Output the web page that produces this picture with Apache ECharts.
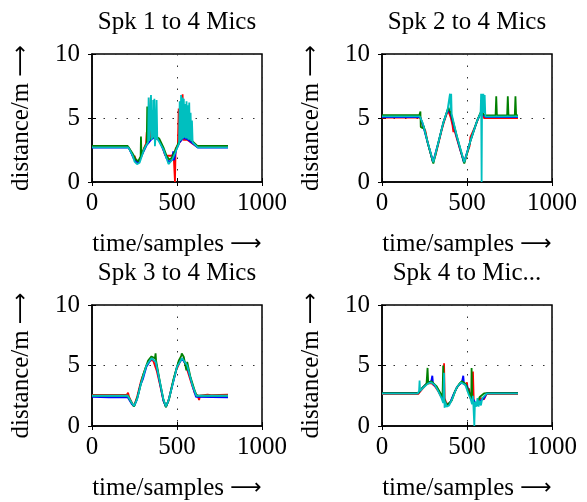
<!DOCTYPE html>
<html><head><meta charset="utf-8">
<script src="https://cdn.jsdelivr.net/npm/echarts@6/dist/echarts.min.js"></script>
<style>html,body{margin:0;padding:0;background:#fff}#c{width:587px;height:502px}</style>
</head><body><div id="c"></div>
<script>
const titles = ["Spk 1 to 4 Mics", "Spk 2 to 4 Mics", "Spk 3 to 4 Mics", "Spk 4 to Mic..."];
const xName = "time/samples {a|\u27F6}";
const yName = "distance/m {a|\u27F6}";
const seriesNames = ["Mic 1", "Mic 2", "Mic 3", "Mic 4"];
const colors = ["#ff0000", "#0000ff", "#008000", "#00bfbf"];

// Panel 1: Spk 1
const p1_red = [[0,2.72],[214,2.72],[235,2.2],[245,1.85],[250,2.05],[262,1.6],[275,1.55],[290,2.0],[305,2.6],[318,3.0],[322,3.9],[325,3.0],[340,3.3],[345,6.6],[348,3.4],[372,3.45],[395,3.3],[415,2.7],[430,2.1],[445,2.05],[468,2.05],[480,2.2],[488,0],[492,2.6],[505,2.9],[510,5.75],[514,3.1],[528,3.3],[533,6.85],[537,3.3],[545,3.35],[560,3.3],[590,3.0],[622,2.72],[800,2.72]];
const p1_blue = [[0,2.68],[216,2.68],[240,2.0],[258,1.6],[272,1.5],[290,2.0],[320,2.85],[350,3.35],[372,3.5],[395,3.25],[420,2.5],[440,1.8],[452,1.6],[470,1.7],[478,2.4],[482,1.7],[495,2.5],[515,3.1],[537,3.45],[560,3.35],[590,3.05],[624,2.68],[800,2.68]];
const p1_green = [[0,2.82],[210,2.82],[238,2.25],[258,1.75],[272,1.62],[286,2.0],[288,3.55],[291,2.1],[310,2.7],[322,3.0],[325,5.9],[328,3.2],[350,3.45],[372,3.6],[395,3.4],[420,2.7],[440,2.0],[455,1.75],[470,1.9],[490,2.5],[510,3.1],[537,3.6],[560,3.5],[590,3.2],[620,2.82],[800,2.82]];
const p1_cyan = [[0,2.7],[214,2.7],[238,2.1],[250,1.6],[258,1.75],[265,1.4],[272,1.45],[280,1.5],[290,1.9],[305,2.5],[320,2.9],[330,3.1],[333,6.6],[336,3.2],[342,3.3],[347,6.8],[350,3.3],[353,5.6],[356,3.4],[360,6.4],[363,3.5],[367,6.5],[370,2.8],[374,3.5],[380,6.4],[384,3.4],[395,3.25],[420,2.55],[440,1.8],[450,1.4],[458,1.55],[470,1.7],[490,2.3],[505,2.8],[512,3.0],[516,6.3],[520,3.2],[524,6.8],[528,3.3],[532,6.6],[536,3.4],[540,6.5],[544,3.5],[548,6.1],[552,3.4],[556,6.3],[560,3.4],[564,6.0],[568,3.3],[572,6.2],[576,3.3],[580,5.4],[584,3.2],[588,4.8],[592,3.1],[600,3.0],[622,2.7],[800,2.7]];

// Panel 2: Spk 2
const p2_red = [[0,5.03],[225,5.03],[232,4.8],[240,4.4],[255,4.0],[270,3.0],[285,2.3],[300,1.55],[315,2.1],[330,2.9],[350,4.0],[365,4.7],[380,5.3],[390,5.55],[405,5.0],[415,4.4],[420,3.9],[425,4.1],[440,3.4],[460,2.5],[484,1.55],[500,2.2],[515,2.8],[520,3.5],[530,3.6],[550,4.4],[570,5.1],[582,5.4],[600,5.0],[620,5.0],[800,5.0]];
const p2_blue = [[0,5.08],[224,5.08],[240,4.5],[270,3.0],[300,1.55],[330,3.0],[360,4.6],[388,5.7],[405,5.3],[440,3.5],[482,1.5],[520,3.2],[560,4.8],[582,5.4],[610,5.08],[800,5.08]];
const p2_green = [[0,5.23],[220,5.23],[226,5.5],[228,4.3],[240,4.2],[245,4.4],[270,3.0],[302,1.45],[330,3.0],[360,4.6],[390,5.8],[405,5.4],[440,3.6],[484,1.45],[520,3.2],[560,4.8],[582,5.5],[605,5.2],[668,5.2],[672,6.7],[676,5.2],[736,5.2],[740,6.7],[744,5.2],[781,5.2],[785,6.7],[789,5.2],[800,5.2]];
const p2_cyan = [[0,5.12],[222,5.12],[240,4.6],[270,3.05],[302,1.55],[330,3.0],[360,4.6],[385,5.6],[395,5.7],[400,6.9],[404,5.6],[407,6.9],[410,5.3],[440,3.6],[484,1.55],[520,3.2],[560,4.8],[580,5.4],[583,6.9],[586,0],[589,6.9],[592,5.5],[596,6.9],[600,5.4],[604,6.8],[608,5.1],[800,5.12]];

// Panel 3: Spk 3
const p3_red = [[0,2.58],[205,2.58],[212,2.75],[218,2.4],[235,1.9],[247,1.65],[265,2.4],[290,3.8],[320,5.0],[345,5.45],[360,5.4],[380,4.6],[400,3.4],[420,2.1],[435,1.6],[450,2.1],[470,3.3],[495,4.6],[520,5.4],[535,5.5],[550,5.1],[570,4.2],[590,3.3],[605,2.7],[620,2.55],[630,2.15],[635,2.5],[680,2.6],[700,2.55],[800,2.6]];
const p3_blue = [[0,2.4],[100,2.37],[210,2.37],[235,1.8],[247,1.62],[265,2.2],[285,3.4],[300,3.9],[320,4.9],[350,5.6],[375,5.3],[400,3.5],[420,2.1],[435,1.58],[450,2.1],[470,3.2],[500,4.9],[530,5.6],[560,4.9],[590,3.4],[612,2.4],[620,2.37],[800,2.37]];
const p3_green = [[0,2.5],[210,2.5],[230,2.0],[247,1.6],[270,2.5],[300,4.2],[330,5.4],[350,5.75],[370,5.6],[374,6.0],[377,5.4],[400,3.6],[420,2.2],[435,1.55],[455,2.3],[480,3.9],[510,5.4],[525,5.8],[528,6.0],[540,5.7],[555,4.6],[560,5.3],[580,4.0],[605,2.9],[616,2.5],[800,2.5]];
const p3_cyan = [[0,2.5],[210,2.5],[232,1.95],[247,1.65],[265,2.2],[290,3.6],[320,5.0],[350,5.6],[375,5.3],[400,3.6],[420,2.2],[435,1.62],[450,2.1],[470,3.2],[500,4.9],[530,5.6],[560,5.0],[590,3.4],[614,2.5],[800,2.5]];

// Panel 4: Spk 4
const p4_red = [[0,2.63],[212,2.63],[240,3.1],[265,3.5],[290,3.55],[310,3.3],[330,2.9],[345,2.5],[355,2.3],[362,2.5],[365,5.18],[369,2.3],[375,2.0],[385,1.8],[400,1.9],[420,2.5],[440,3.2],[460,3.5],[475,3.6],[490,3.4],[500,3.6],[505,2.8],[512,3.1],[520,2.3],[530,2.1],[535,4.5],[540,2.0],[555,1.7],[565,2.0],[580,2.3],[600,2.2],[615,2.63],[800,2.63]];
const p4_blue = [[0,2.74],[214,2.74],[240,3.2],[270,3.6],[290,3.7],[296,4.15],[300,3.5],[320,3.2],[340,2.7],[360,2.2],[375,1.7],[385,1.6],[400,1.9],[420,2.6],[445,3.3],[470,3.6],[478,4.15],[482,3.5],[500,3.3],[520,2.6],[545,2.0],[560,1.7],[580,2.1],[600,2.3],[618,2.74],[800,2.74]];
const p4_green = [[0,2.72],[212,2.72],[240,3.2],[262,3.5],[268,4.8],[272,3.5],[290,3.7],[320,3.3],[345,2.7],[356,2.4],[360,5.0],[364,2.3],[380,1.7],[390,1.6],[410,2.1],[430,2.9],[455,3.5],[470,3.7],[490,3.5],[510,2.9],[525,2.2],[527,4.8],[531,2.2],[545,1.8],[560,1.9],[575,2.4],[600,2.7],[615,2.72],[800,2.72]];
const p4_cyan = [[0,2.68],[210,2.68],[218,2.9],[221,3.75],[224,2.9],[245,3.2],[270,3.5],[290,3.6],[310,3.4],[330,2.9],[350,2.3],[360,1.9],[365,4.4],[368,1.5],[372,2.0],[380,1.6],[395,1.7],[415,2.3],[440,3.2],[465,3.6],[490,3.4],[510,2.6],[520,2.3],[530,1.8],[535,2.5],[543,0],[547,2.0],[555,1.6],[562,2.3],[568,1.6],[575,2.1],[582,1.7],[590,2.3],[600,2.4],[615,2.68],[800,2.68]];

const xTicks = [0, 500, 1000];
const yTicks = [0, 5, 10];

const panels = [
  [p1_red, p1_blue, p1_green, p1_cyan],
  [p2_red, p2_blue, p2_green, p2_cyan],
  [p3_red, p3_blue, p3_green, p3_cyan],
  [p4_red, p4_blue, p4_green, p4_cyan]
];

const FONT = "'Liberation Serif','Times New Roman',serif";
const FS = 25;
const lefts = [92, 382, 92, 382];
const tops = [54, 54, 305, 305];
const W = 170, H = 128;
const rich = {a: {fontFamily: "'DejaVu Sans'", fontSize: 22, color: '#000'}};
const dotted = {color: '#333', type: [1.5, 10], width: 1};

const grid = [], xAxis = [], yAxis = [], series = [], graphic = [];
panels.forEach((p, i) => {
  grid.push({left: lefts[i], top: tops[i], width: W, height: H, show: true, borderColor: '#000', borderWidth: 1.5, backgroundColor: 'transparent'});
  xAxis.push({
    type: 'value', gridIndex: i, min: xTicks[0], max: xTicks[2], interval: xTicks[1] - xTicks[0],
    name: xName, nameLocation: 'middle', nameGap: 50,
    nameTextStyle: {fontFamily: FONT, fontSize: FS, color: '#000', rich},
    axisLine: {show: true, lineStyle: {color: '#000', width: 1.5}},
    axisTick: {show: true, inside: true, length: 4, lineStyle: {color: '#000'}},
    axisLabel: {fontFamily: FONT, fontSize: FS, color: '#000', margin: 9, formatter: v => String(v)},
    splitLine: {show: true, lineStyle: dotted}
  });
  xAxis.push({
    type: 'value', gridIndex: i, position: 'top', min: xTicks[0], max: xTicks[2], interval: xTicks[1] - xTicks[0],
    axisLine: {show: false}, axisLabel: {show: false}, splitLine: {show: false},
    axisTick: {show: true, inside: true, length: 4, lineStyle: {color: '#000'}}
  });
  yAxis.push({
    type: 'value', gridIndex: i, min: yTicks[0], max: yTicks[2], interval: yTicks[1] - yTicks[0],
    name: yName, nameLocation: 'middle', nameGap: 58,
    nameTextStyle: {fontFamily: FONT, fontSize: FS, color: '#000', rich},
    axisLine: {show: true, lineStyle: {color: '#000', width: 1.5}},
    axisTick: {show: true, inside: true, length: 4, lineStyle: {color: '#000'}},
    axisLabel: {fontFamily: FONT, fontSize: FS, color: '#000', margin: 12, formatter: v => String(v)},
    splitLine: {show: true, lineStyle: dotted}
  });
  yAxis.push({
    type: 'value', gridIndex: i, position: 'right', min: yTicks[0], max: yTicks[2], interval: yTicks[1] - yTicks[0],
    axisLine: {show: false}, axisLabel: {show: false}, splitLine: {show: false},
    axisTick: {show: true, inside: true, length: 4, lineStyle: {color: '#000'}}
  });
  p.forEach((d, k) => {
    series.push({
      type: 'line', name: seriesNames[k], xAxisIndex: 2 * i, yAxisIndex: 2 * i, data: d,
      showSymbol: false, symbol: 'none', animation: false, z: 2 + k,
      lineStyle: {color: colors[k], width: 1.8}, itemStyle: {color: colors[k]}
    });
  });
  graphic.push({
    type: 'text', x: lefts[i] + W / 2, y: tops[i] - 32,
    style: {text: titles[i], font: FS + "px " + FONT, fill: '#000', textAlign: 'center', textVerticalAlign: 'middle'}
  });
});

const chart = echarts.init(document.getElementById('c'));
chart.setOption({animation: false, grid, xAxis, yAxis, series, graphic});
</script></body></html>
